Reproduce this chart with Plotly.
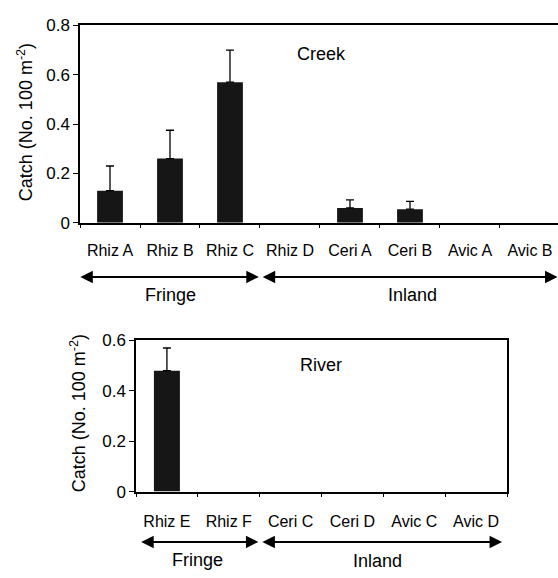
import plotly.graph_objects as go

creek_sites = ["Rhiz A", "Rhiz B", "Rhiz C", "Rhiz D", "Ceri A", "Ceri B", "Avic A", "Avic B"]
creek_catch = [0.13, 0.26, 0.57, 0, 0.06, 0.055, 0, 0]
creek_err = [0.10, 0.115, 0.13, None, 0.033, 0.032, None, None]

river_sites = ["Rhiz E", "Rhiz F", "Ceri C", "Ceri D", "Avic C", "Avic D"]
river_catch = [0.48, 0, 0, 0, 0, 0]
river_err = [0.09, None, None, None, None, None]

creek_ticks = [0, 0.2, 0.4, 0.6, 0.8]
creek_ticklabels = ["0", "0.2", "0.4", "0.6", "0.8"]
river_ticks = [0, 0.2, 0.4, 0.6]
river_ticklabels = ["0", "0.2", "0.4", "0.6"]

W, H = 558, 578
FONT = "Liberation Sans, Arial, sans-serif"
BAR = "#161616"

def px_x(p):
    return p / W

def px_y(p):
    return 1 - p / H

def with_err(sites, vals, errs):
    keep = [i for i, e in enumerate(errs) if e is not None]
    return ([sites[i] for i in keep], [vals[i] for i in keep], [errs[i] for i in keep])

fig = go.Figure()
fig.add_trace(go.Bar(
    x=creek_sites, y=creek_catch, xaxis="x", yaxis="y", width=0.43,
    marker=dict(color=BAR, line=dict(width=0)), showlegend=False))
fig.add_trace(go.Bar(
    x=river_sites, y=river_catch, xaxis="x2", yaxis="y2", width=0.42,
    marker=dict(color=BAR, line=dict(width=0)), showlegend=False))

for sites, vals, errs, xa, ya in [(creek_sites, creek_catch, creek_err, "x", "y"),
                                  (river_sites, river_catch, river_err, "x2", "y2")]:
    ex, ey, ee = with_err(sites, vals, errs)
    fig.add_trace(go.Scatter(
        x=ex, y=ey, xaxis=xa, yaxis=ya, mode="markers",
        marker=dict(size=1, color="rgba(0,0,0,0)"),
        error_y=dict(type="data", array=ee, symmetric=False, arrayminus=[0] * len(ee),
                     color="black", thickness=1.3, width=4),
        showlegend=False, hoverinfo="skip"))

axis_common = dict(showgrid=False, zeroline=False, showline=True, linecolor="black",
                   linewidth=1.5, ticks="outside", tickcolor="black", tickwidth=1.3,
                   tickfont=dict(family=FONT, size=16, color="black"))

fig.update_layout(
    width=W, height=H, margin=dict(l=0, r=0, t=0, b=0),
    paper_bgcolor="white", plot_bgcolor="white",
    font=dict(family=FONT, color="black"),
    xaxis=dict(**axis_common, domain=[px_x(80), 1], anchor="y",
               range=[-0.5, 7.467], tickson="boundaries", ticklen=4, mirror=True,
               ticklabelstandoff=12, categoryorder="array", categoryarray=creek_sites),
    yaxis=dict(**axis_common, domain=[px_y(221), px_y(17)], anchor="x",
               range=[0, 0.8], tickvals=creek_ticks, ticktext=creek_ticklabels, ticklen=5),
    xaxis2=dict(**axis_common, domain=[px_x(136), px_x(507)], anchor="y2",
                range=[-0.5, 5.5], tickson="boundaries", ticklen=4, mirror=True,
                ticklabelstandoff=14, categoryorder="array", categoryarray=river_sites),
    yaxis2=dict(**axis_common, domain=[px_y(499), px_y(342.7)], anchor="x2",
                range=[0, 0.6], tickvals=river_ticks, ticktext=river_ticklabels,
                ticklen=5, mirror=True),
)
fig.update_yaxes(tickfont=dict(size=17))

annotations = []
ytitle = "Catch (No. 100 m<sup>-2</sup>)"
for (cx, cy) in [(25, 117), (78, 418)]:
    annotations.append(dict(text=ytitle, xref="paper", yref="paper", x=px_x(cx), y=px_y(cy),
                            textangle=-90, showarrow=False, xanchor="center", yanchor="middle",
                            font=dict(family=FONT, size=18, color="black")))
annotations.append(dict(text="Creek", xref="paper", yref="paper", x=px_x(295), y=px_y(47),
                        xanchor="left", yanchor="middle", showarrow=False,
                        font=dict(family=FONT, size=18, color="black")))
annotations.append(dict(text="River", xref="paper", yref="paper", x=px_x(298), y=px_y(368),
                        xanchor="left", yanchor="middle", showarrow=False,
                        font=dict(family=FONT, size=18, color="black")))

def double_arrow(xref, x0, x1, ypx):
    return dict(text="", xref=xref, axref=xref, x=x1, ax=x0, yref="paper", y=px_y(ypx),
                ayref="pixel", ay=0, showarrow=True, arrowside="end+start",
                arrowhead=2, startarrowhead=2, arrowsize=1.25, startarrowsize=1.25,
                arrowwidth=2, arrowcolor="black", standoff=0, startstandoff=0)

def group_label(text, xref, x, ytop):
    return dict(text=text, xref=xref, x=x, yref="paper", y=px_y(ytop),
                xanchor="center", yanchor="top", showarrow=False,
                font=dict(family=FONT, size=18, color="black"))

annotations.append(double_arrow("x", -0.52, 2.48, 277))
annotations.append(double_arrow("x", 2.52, 7.46, 277))
annotations.append(group_label("Fringe", "x", 1.0, 283))
annotations.append(group_label("Inland", "x", 5.04, 283))
annotations.append(double_arrow("x2", -0.44, 1.48, 551))
annotations.append(double_arrow("x2", 1.52, 5.42, 551))
annotations.append(group_label("Fringe", "x2", 0.5, 557))
annotations.append(group_label("Inland", "x2", 3.4, 558))

fig.update_layout(annotations=annotations)
fig.write_html("out.html")
